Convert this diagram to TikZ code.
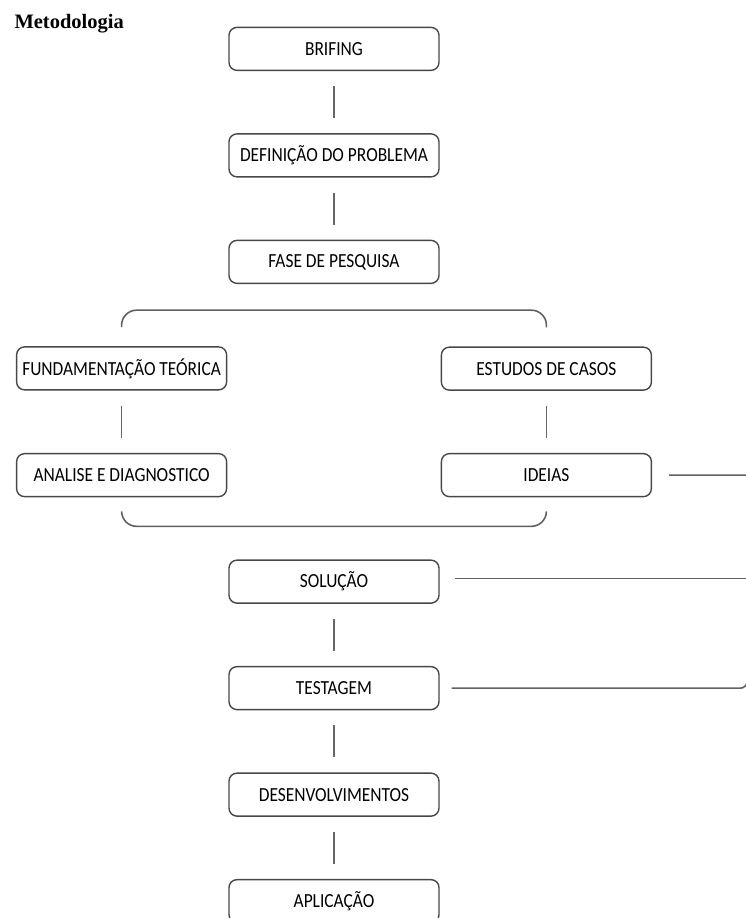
\documentclass[tikz,border=0pt]{standalone}
\usepackage{fontspec}
\setmainfont{Carlito}
\newfontfamily\etapafont[FakeStretch=0.87]{Carlito}
\newfontfamily\titlefont{Liberation Serif}
\usetikzlibrary{matrix}

\tikzset{
  etapa/.style={draw=black!72, line width=1.4pt, rounded corners=8pt,
    minimum width=210pt, minimum height=43pt, inner sep=0pt,
    font=\etapafont\fontsize{20}{22}\selectfont},
  liga/.style={draw=black!60, line width=1.6pt, shorten >=15pt, shorten <=15pt},
  traco/.style={draw=black!62, line width=1.6pt}
}

\begin{document}
\begin{tikzpicture}[x=1pt, y=-1pt]
  \useasboundingbox (0,0) rectangle (745,918);
  \node[anchor=base west, font=\titlefont\bfseries\fontsize{20.5}{24}\selectfont]
    (titulo) at (11,28) {Metodologia};
  \matrix (m) [matrix of nodes, nodes=etapa,
    column sep=1pt, row sep=62.1pt] at (334,475) {
    & |(brif)| BRIFING & \\
    & |(def)| DEFINIÇÃO DO PROBLEMA & \\
    & |(fase)| FASE DE PESQUISA & \\
    |(fund)| FUNDAMENTAÇÃO TEÓRICA & & |(est)| ESTUDOS DE CASOS \\
    |(anal)| ANALISE E DIAGNOSTICO & & |(idei)| IDEIAS \\
    & |(sol)| SOLUÇÃO & \\
    & |(test)| TESTAGEM & \\
    & |(des)| DESENVOLVIMENTOS & \\
    & |(apl)| APLICAÇÃO & \\
  };
  \foreach \a/\b in {brif/def,def/fase,fund/anal,est/idei,sol/test,test/des,des/apl}{
    \draw[liga] (\a) -- (\b);
  }
  \coordinate (direita) at (746.5,0);
  \draw[traco, rounded corners=15pt] ([yshift=19pt]fund.north) -- ++(0,-17)
    -| ([yshift=19pt]est.north);
  \draw[traco, rounded corners=15pt] ([yshift=-14pt]anal.south) -- ++(0,15)
    -| ([yshift=-14pt]idei.south);
  \draw[traco, rounded corners=6pt] ([xshift=17pt]idei.east)
    -- ([xshift=17pt]idei.east -| direita) -- (test.east -| direita)
    -- ([xshift=12pt]test.east);
  \draw[traco] ([xshift=15pt,yshift=3pt]sol.east) -- ([yshift=3pt]sol.east -| direita);
\end{tikzpicture}
\end{document}
